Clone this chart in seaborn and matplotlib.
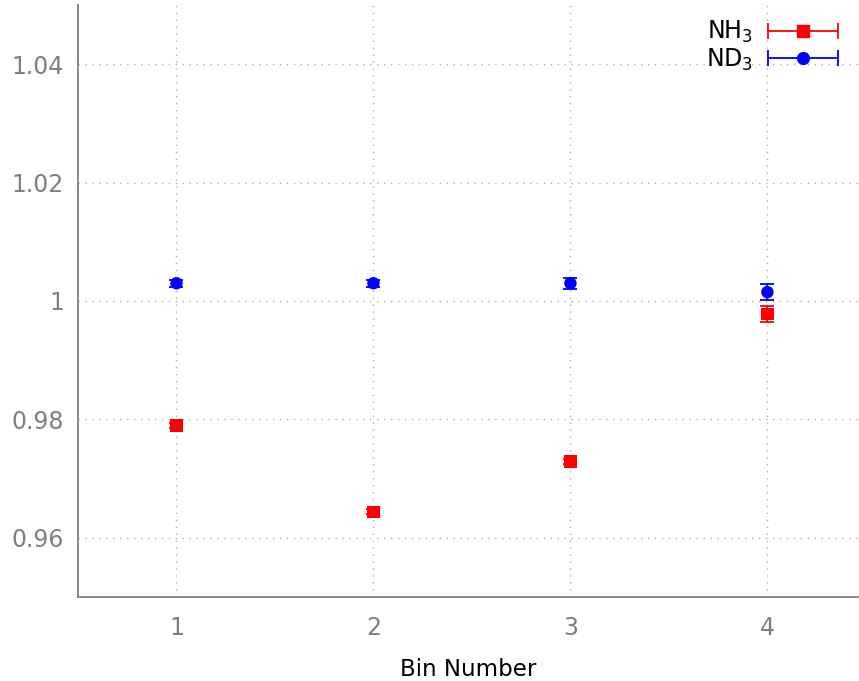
import matplotlib
matplotlib.use("Agg")
import matplotlib.pyplot as plt
import seaborn as sns
import pandas as pd
from matplotlib.lines import Line2D
from matplotlib.legend_handler import HandlerTuple, HandlerLine2D

# Ratio per bin for the two ammonia isotopologues
bins = [1, 2, 3, 4]
nh3_values = [0.9790, 0.9644, 0.9729, 0.9978]
nh3_errors = [0.0004, 0.0004, 0.0004, 0.0013]
nd3_values = [1.0030, 1.0030, 1.0030, 1.0015]
nd3_errors = [0.0006, 0.0006, 0.0009, 0.0013]
series_names = ["NH$_3$", "ND$_3$"]
y_ticks = [0.96, 0.98, 1.00, 1.02, 1.04]
y_tick_labels = ["0.96", "0.98", "1", "1.02", "1.04"]

sns.set_theme(style="white")
plt.rcParams["font.family"] = ["DejaVu Sans"]

df = pd.DataFrame({
    "bin": bins * 2,
    "value": nh3_values + nd3_values,
    "err": nh3_errors + nd3_errors,
    "series": [series_names[0]] * 4 + [series_names[1]] * 4,
})

colors = {series_names[0]: "#ff0000", series_names[1]: "#0000ff"}
markers = {series_names[0]: "s", series_names[1]: "o"}

fig = plt.figure(figsize=(8.59, 6.81), dpi=100)
ax = fig.add_axes([78 / 859, 1 - 597 / 681, 780 / 859, 592 / 681])

grey = "#808080"

for name in series_names:
    sub = df[df["series"] == name]
    ax.errorbar(sub["bin"], sub["value"], yerr=sub["err"], fmt="none",
                ecolor=colors[name], elinewidth=1.3, capsize=5, capthick=1.3, zorder=3)

sns.scatterplot(data=df, x="bin", y="value", hue="series", style="series",
                palette=colors, markers=markers, s=80, edgecolor="none",
                legend=False, ax=ax, zorder=4)

ax.set_xlim(0.5, 4.46)
ax.set_ylim(0.95, 1.05)
ax.set_xticks(bins)
ax.set_xticklabels([str(b) for b in bins])
ax.set_yticks(y_ticks)
ax.set_yticklabels(y_tick_labels)

ax.grid(True, linestyle=(0, (1, 4)), color="#b0b0b0", linewidth=1.0)
ax.set_axisbelow(True)
for side in ["top", "right"]:
    ax.spines[side].set_visible(False)
for side in ["left", "bottom"]:
    ax.spines[side].set_color(grey)
    ax.spines[side].set_linewidth(1.3)

ax.tick_params(axis="both", direction="in", length=7, width=1.3, color=grey,
               labelcolor=grey, labelsize=17)
ax.tick_params(axis="y", pad=10)
ax.tick_params(axis="x", pad=14)

ax.set_xlabel("Bin Number", fontsize=16.5, color="black", labelpad=13)
ax.set_ylabel("")

# Legend samples: horizontal error bar with end caps and a centred marker
handles = []
handler_map = {}
for name in series_names:
    bar = Line2D([], [], color=colors[name], linewidth=1.3, marker="|",
                 markersize=11, markeredgewidth=1.3)
    dot = Line2D([], [], color=colors[name], marker=markers[name],
                 linestyle="none", markersize=9 if name == series_names[0] else 8.5)
    handler_map[bar] = HandlerLine2D(numpoints=2, marker_pad=0.0)
    handler_map[dot] = HandlerLine2D(numpoints=1)
    handles.append((bar, dot))

leg = ax.legend(handles, series_names,
                handler_map={**handler_map, tuple: HandlerTuple(ndivide=1, pad=0)},
                loc="upper right", bbox_to_anchor=(0.993, 1.0), frameon=False,
                markerfirst=False, fontsize=17, handlelength=3.0, handletextpad=0.62,
                labelspacing=0.05, borderaxespad=0.2)
for t in leg.get_texts():
    t.set_color("black")

fig.savefig("out.png", dpi=100)
